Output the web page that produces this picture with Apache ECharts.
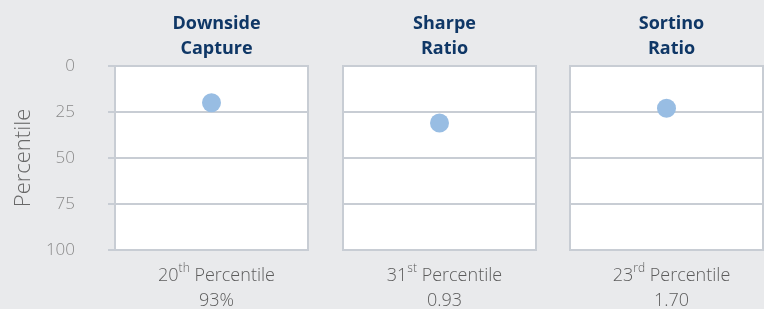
<!DOCTYPE html>
<html>
<head>
<meta charset="utf-8">
<script src="https://cdn.jsdelivr.net/npm/echarts@6/dist/echarts.min.js"></script>
<style>
  html, body { margin: 0; padding: 0; background: #e9eaec; }
  #main { width: 764px; height: 309px; }
</style>
</head>
<body>
<div id="main"></div>
<script>
// chart data
const metrics = ['Downside\nCapture', 'Sharpe\nRatio', 'Sortino\nRatio'];
const percentiles = [20, 31, 23];
const suffixes = ['th', 'st', 'rd'];
const metricValues = ['93%', '0.93', '1.70'];
const yTicks = [0, 25, 50, 75, 100];

const font = '"Open Sans", "Noto Sans", sans-serif';
const panelLeft = [115, 343, 570];
const panelWidth = 193;
const panelTop = 66;
const panelHeight = 184;
const border = '#c8cdd4';

const grids = [], xAxes = [], yAxes = [], series = [], titles = [];

metrics.forEach((m, i) => {
  grids.push({
    left: panelLeft[i], top: panelTop, width: panelWidth, height: panelHeight,
    show: true, backgroundColor: '#fff', borderColor: border, borderWidth: 2
  });
  xAxes.push({ gridIndex: i, type: 'value', min: 0, max: 1, show: false });
  yAxes.push({
    gridIndex: i, type: 'value', inverse: true,
    min: yTicks[0], max: yTicks[yTicks.length - 1], interval: 25,
    offset: i === 0 ? 18 : 0,
    name: i === 0 ? 'Percentile' : '',
    nameLocation: 'middle', nameGap: 62,
    nameTextStyle: { color: '#686868', fontSize: 22, fontWeight: 300, fontFamily: font },
    axisLine: { show: i === 0, lineStyle: { color: border, width: 2 } },
    axisTick: { show: i === 0, length: 7, lineStyle: { color: border, width: 2 } },
    axisLabel: { show: i === 0, color: '#8a8a8a', fontSize: 17, fontWeight: 300, fontFamily: font, margin: 22 },
    splitLine: { show: true, lineStyle: { color: border, width: 2 } }
  });
  series.push({
    type: 'scatter', xAxisIndex: i, yAxisIndex: i,
    symbolSize: 19, itemStyle: { color: '#98bde3', opacity: 1 },
    data: [[0.5, percentiles[i]]]
  });
  const cx = panelLeft[i] + panelWidth / 2;
  titles.push({
    text: m, left: cx, top: 6, textAlign: 'center',
    textStyle: { color: '#0f3766', fontSize: 18, fontWeight: 'bold', fontFamily: font, lineHeight: 25 }
  });
  titles.push({
    text: '{n|' + percentiles[i] + '}{s|' + suffixes[i] + '}{n| Percentile}\n{n|' + metricValues[i] + '}',
    left: cx, top: 258, textAlign: 'center',
    textStyle: {
      fontWeight: 'normal',
      rich: {
        n: { color: '#5c5c5c', fontSize: 18, fontWeight: 300, fontFamily: font, lineHeight: 25 },
        s: { color: '#5c5c5c', fontSize: 12, fontWeight: 300, fontFamily: font, lineHeight: 25, verticalAlign: 'top', padding: [0, 0, 5, 0] }
      }
    }
  });
});

const chart = echarts.init(document.getElementById('main'));
chart.setOption({
  backgroundColor: '#e9eaec',
  animation: false,
  title: titles,
  grid: grids,
  xAxis: xAxes,
  yAxis: yAxes,
  series: series
});
</script>
</body>
</html>
